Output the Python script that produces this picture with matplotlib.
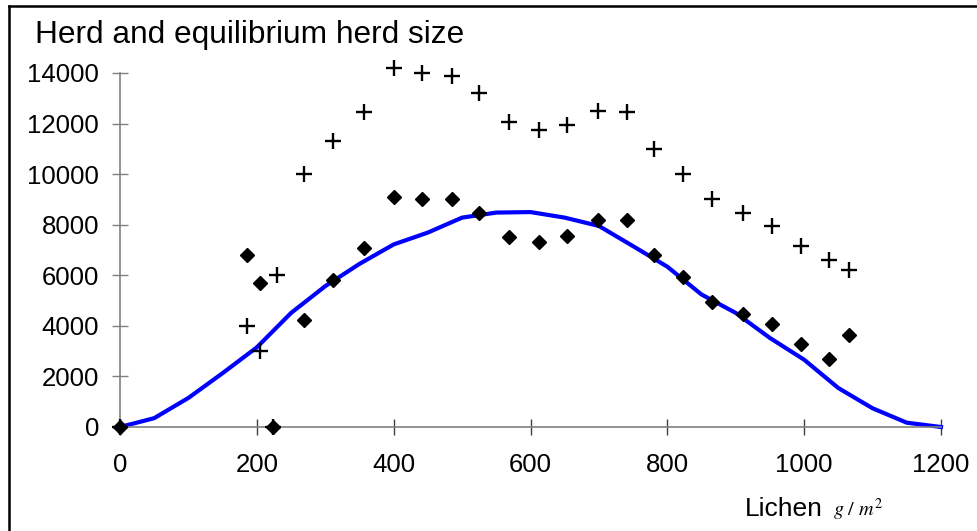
import matplotlib
matplotlib.use("Agg")
import matplotlib.pyplot as plt
from matplotlib.lines import Line2D

plt.rcParams['font.family'] = ['Liberation Sans', 'DejaVu Sans']
plt.rcParams['mathtext.fontset'] = 'stix'

# Observed lichen levels (g/m^2)
lichen = [0, 186, 205, 224, 269, 312, 356, 400, 442, 485, 525, 568, 612, 654,
          698, 741, 781, 823, 866, 910, 953, 996, 1036, 1065]
# Herd size (plus markers)
herd = [0, 4000, 3000, 0, 10000, 11300, 12450, 14200, 14000, 13900, 13200,
        12050, 11750, 11950, 12500, 12450, 11000, 10000, 9000, 8450, 7950,
        7150, 6600, 6200]
# Extra plus marker
herd_x_extra = [230]
herd_extra = [6000]
# Equilibrium herd size (diamond markers)
equil = [0, 6800, 5700, 0, 4250, 5830, 7090, 9100, 9000, 9000, 8450, 7500,
         7300, 7550, 8170, 8170, 6800, 5940, 4950, 4470, 4070, 3280, 2700, 3650]

# Model curve (blue)
curve_x = [0, 50, 100, 150, 200, 250, 300, 350, 400, 450, 500, 550, 600, 650,
           700, 750, 800, 850, 900, 950, 1000, 1050, 1100, 1150, 1200]
curve_y = [0, 350, 1150, 2130, 3150, 4510, 5570, 6450, 7220, 7690, 8280, 8480,
           8500, 8280, 7950, 7150, 6340, 5240, 4510, 3520, 2660, 1540, 740, 170, 0]

xticks = [0, 200, 400, 600, 800, 1000, 1200]
yticks = [0, 2000, 4000, 6000, 8000, 10000, 12000, 14000]

TICK_FS = 18.5

W, H = 977, 531
fig = plt.figure(figsize=(W / 100, H / 100), dpi=100)
ax = fig.add_axes([120 / W, 1 - 427 / H, (941 - 120) / W, (427 - 73) / H])

ax.plot(curve_x, curve_y, color='#0000FF', lw=3.0, zorder=2, clip_on=False,
        solid_joinstyle='miter')
ax.plot(lichen, equil, linestyle='none', marker='D', ms=7.5, color='black',
        zorder=3, clip_on=False)
ax.plot(lichen + herd_x_extra, herd + herd_extra, linestyle='none', marker='+',
        ms=12, mew=1.7, color='black', zorder=4, clip_on=False)

ax.set_xlim(0, 1200)
ax.set_ylim(0, 14000)

for s in ['top', 'right']:
    ax.spines[s].set_visible(False)
for s in ['left', 'bottom']:
    ax.spines[s].set_color('#808080')
    ax.spines[s].set_linewidth(1.2)

ax.tick_params(axis='both', direction='inout', length=11, width=1.0,
               color='#808080', labelcolor='black', labelsize=TICK_FS)
ax.tick_params(axis='y', pad=9.5)
ax.tick_params(axis='x', pad=13, color='#404040')

ax.set_xticks(xticks)
ax.set_yticks(yticks)
ax.set_xticklabels([str(v) for v in xticks], fontsize=TICK_FS)
ax.set_yticklabels([str(v) for v in yticks], fontsize=TICK_FS)

fig.text(35 / W, 1 - 43 / H, 'Herd and equilibrium herd size', fontsize=22.8,
         ha='left', va='baseline')
fig.text(745 / W, 1 - 516 / H, 'Lichen', fontsize=19, ha='left', va='baseline')
fig.text(833 / W, 1 - 516 / H, r'$g\ /\ m^2$', fontsize=14.5, ha='left', va='baseline')

# outer frame (top and left edges)
fig.add_artist(Line2D([8.5 / W, 8.5 / W], [0, 1 - 5.5 / H], transform=fig.transFigure,
                      color='black', lw=1.8))
fig.add_artist(Line2D([8.5 / W, 1], [1 - 5.5 / H, 1 - 5.5 / H], transform=fig.transFigure,
                      color='black', lw=1.8))

fig.savefig('out.png', dpi=100)
